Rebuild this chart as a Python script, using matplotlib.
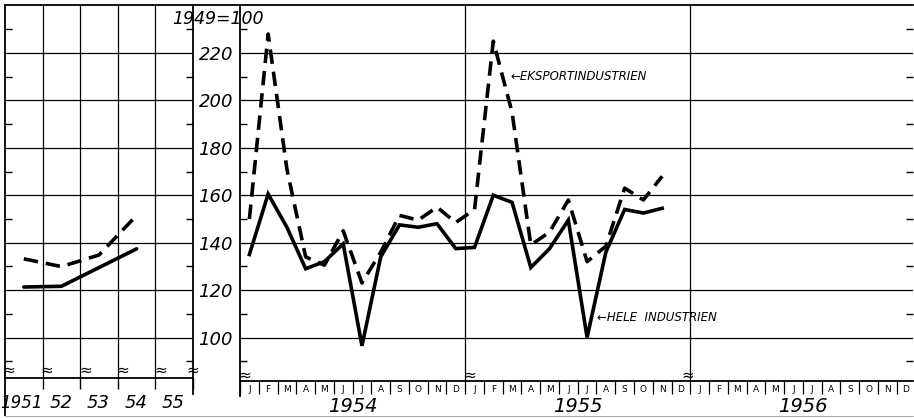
import matplotlib.pyplot as plt
from matplotlib.lines import Line2D
from matplotlib.transforms import blended_transform_factory

W, H = 914, 418

# annual index, 1949 = 100
years_left = ["1951", "52", "53", "54", "55"]
hele_annual = [121.3, 121.6, 129.5, 137.4]
eksport_annual = [133.2, 129.9, 134.8, 151.5]

# monthly index, Jan 1954 - Nov 1955
month_letters = ["J", "F", "M", "A", "M", "J", "J", "A", "S", "O", "N", "D"]
years_right = ["1954", "1955", "1956"]
hele_monthly = [135, 160.5, 146.5, 129, 132, 139.5, 96.5, 134, 147.5, 146.5, 148, 137.5,
                138, 160, 157, 129.5, 137.5, 149.5, 100, 136, 154, 152.5, 154.5]
eksport_monthly = [150, 228, 171, 134, 130.5, 145, 123, 136, 151.5, 149.5, 155, 148.5,
                   154, 225, 195, 139, 144.5, 158, 132, 138.5, 163, 158, 168]

y_grid = [100, 120, 140, 160, 180, 200, 220]
y_minor = [90, 110, 130, 150, 170, 190, 210, 230]

PX_PER_UNIT = (337.5 - 53) / 120.0


def fx(px):
    return px / W


def fy(py):
    return 1 - py / H


def ylim_for(bottom_px):
    top = 220 + (53 - 5) / PX_PER_UNIT
    bottom = 100 - (bottom_px - 337.5) / PX_PER_UNIT
    return bottom, top


fig = plt.figure(figsize=(W / 100, H / 100), dpi=100)
font = dict(family="DejaVu Sans", style="italic")

ax_l = fig.add_axes([fx(5), fy(378), fx(193) - fx(5), fy(5) - fy(378)])
ax_r = fig.add_axes([fx(240), fy(381), fx(913) - fx(240), fy(5) - fy(381)])

for ax in (ax_l, ax_r):
    for s in ax.spines.values():
        s.set_linewidth(1.3)
    for g in y_grid:
        ax.axhline(g, color="black", lw=0.9, zorder=1)
    ax.set_yticks(y_minor, minor=True)
    ax.tick_params(axis="y", which="minor", direction="in", length=5,
                   width=1, left=True, right=True)

# left panel: annual values
ax_l.set_ylim(*ylim_for(378))
ax_l.set_xlim(-0.5, 4.5)
for b in [0.5, 1.5, 2.5, 3.5]:
    ax_l.axvline(b, color="black", lw=0.9, zorder=1)
ax_l.set_yticks([])
ax_l.set_xticks([])
ax_l.set_xticks([0.5, 1.5, 2.5, 3.5, 4.5], minor=True)
ax_l.tick_params(axis="x", which="minor", direction="out", length=8, width=1,
                 labelbottom=False)
ax_l.plot(range(4), hele_annual, color="black", lw=2.6, solid_capstyle="round", zorder=3)
ax_l.plot(range(4), eksport_annual, color="black", lw=2.6, ls=(0, (4, 2.2)), zorder=3)
tl = blended_transform_factory(ax_l.transData, ax_l.transAxes)
for i, lab in enumerate(years_left):
    if i == 0:
        ax_l.text(-0.05, -(403 - 378) / 373, lab, transform=tl, ha="center",
                  va="center", fontsize=12, **font)
    else:
        ax_l.text(i - 0.02, -(403 - 378) / 373, lab, transform=tl, ha="center",
                  va="center", fontsize=13, **font)

# right panel: monthly values
ax_r.set_ylim(*ylim_for(381))
ax_r.set_xlim(-0.5, 35.37)
for b in [11.5, 23.5]:
    ax_r.axvline(b, color="black", lw=0.9, zorder=1)
ax_r.set_yticks(y_grid)
ax_r.set_yticklabels([str(v) for v in y_grid], fontsize=13, **font)
ax_r.tick_params(axis="y", which="major", length=0, pad=5)
ax_r.set_xticks(range(36))
ax_r.set_xticklabels(month_letters * 3, fontsize=6.5)
ax_r.tick_params(axis="x", which="major", length=0, pad=3)
ax_r.set_xticks([k - 0.5 for k in range(36)], minor=True)
ax_r.tick_params(axis="x", which="minor", direction="out", length=9, width=0.9)
ax_r.spines["right"].set_visible(False)

xm = range(len(hele_monthly))
ax_r.plot(xm, hele_monthly, color="black", lw=2.6, solid_joinstyle="miter", zorder=3)
ax_r.plot(range(len(eksport_monthly)), eksport_monthly, color="black", lw=2.6,
          ls=(0, (4, 2.2)), zorder=3)

tr = blended_transform_factory(ax_r.transData, ax_r.transAxes)
for k, lab in enumerate(years_right):
    ax_r.text(12 * k + 5.5, -(407 - 381) / 376, lab, transform=tr, ha="center",
              va="center", fontsize=14, **font)

ax_r.text(13.9, 210, "\u2190EKSPORTINDUSTRIEN", fontsize=8.5, va="center", ha="left", **font)
ax_r.text(18.55, 108.6, "\u2190HELE  INDUSTRIEN", fontsize=8.5, va="center", ha="left", **font)

fig.text(fx(172), fy(19), "1949=100", fontsize=12.5, ha="left", va="center", **font)


# frame pieces and break marks
def fig_line(x0, y0, x1, y1, **kw):
    fig.add_artist(Line2D([fx(x0), fx(x1)], [fy(y0), fy(y1)], transform=fig.transFigure,
                          color=kw.pop("color", "black"), lw=kw.pop("lw", 1.3), **kw))


fig_line(193, 5, 240, 5)
fig_line(5, 378, 5, 415)
fig_line(193, 378, 193, 394)
fig_line(240, 381, 240, 396)
fig_line(5, 416, 913, 416, color="#999999", lw=0.6)

for x in [9, 47, 86, 123, 161, 193]:
    fig.text(fx(x), fy(370), "\u2248", fontsize=11, ha="center", va="center")
for x in [245, 470, 688]:
    fig.text(fx(x), fy(375), "\u2248", fontsize=11, ha="center", va="center")

fig.savefig("out.png", dpi=100)
